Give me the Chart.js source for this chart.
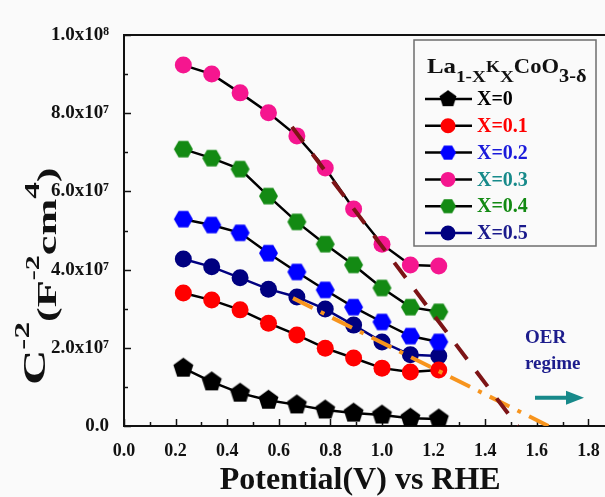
<!DOCTYPE html>
<html>
<head>
<meta charset="utf-8">
<script src="https://cdn.jsdelivr.net/npm/chart.js@4.4.1/dist/chart.umd.min.js"></script>
<style>
  html, body { margin: 0; padding: 0; background: #fafafa; }
</style>
</head>
<body>
<canvas id="mott" width="605" height="497"></canvas>
<script>
// potentials (V vs RHE) shared by every composition
const potential = [0.23, 0.34, 0.45, 0.56, 0.67, 0.78, 0.89, 1.00, 1.11, 1.22];

// C^-2 values (F^-2 cm^4) per composition
const c2X0  = [1.48e7, 1.13e7, 0.84e7, 0.66e7, 0.54e7, 0.41e7, 0.33e7, 0.28e7, 0.20e7, 0.18e7];
const c2X01 = [3.40e7, 3.22e7, 2.97e7, 2.63e7, 2.33e7, 1.99e7, 1.74e7, 1.48e7, 1.38e7, 1.43e7];
const c2X02 = [5.29e7, 5.14e7, 4.94e7, 4.42e7, 3.94e7, 3.48e7, 3.04e7, 2.66e7, 2.30e7, 2.15e7];
const c2X03 = [9.23e7, 9.00e7, 8.52e7, 8.01e7, 7.42e7, 6.60e7, 5.55e7, 4.65e7, 4.12e7, 4.09e7];
const c2X04 = [7.08e7, 6.85e7, 6.57e7, 5.88e7, 5.22e7, 4.65e7, 4.12e7, 3.53e7, 3.04e7, 2.92e7];
const c2X05 = [4.27e7, 4.07e7, 3.79e7, 3.50e7, 3.30e7, 2.99e7, 2.58e7, 2.15e7, 1.82e7, 1.79e7];

const seriesLabels = ['X=0', 'X=0.1', 'X=0.2', 'X=0.3', 'X=0.4', 'X=0.5'];
const seriesValues = [c2X0, c2X01, c2X02, c2X03, c2X04, c2X05];

// extrapolated linear fits down to the x axis
const fitPinkX = [0.651, 1.525];
const fitPinkY = [7.65e7, 0];
const fitNavyX = [0.655, 1.645];
const fitNavyY = [3.27e7, 0];

// axis ticks
const xTickStep = 0.2;
const yTickStep = 2e7;

const serif = "'Liberation Serif', 'Times New Roman', serif";
const pxPerVolt = 258; // the x axis runs off the right edge of the picture

function polygonMarker(sides, radius, color, startAngle) {
    const size = Math.ceil(radius * 2) + 2;
    const c = document.createElement('canvas');
    c.width = size;
    c.height = size;
    const g = c.getContext('2d');
    g.fillStyle = color;
    g.beginPath();
    for (let i = 0; i < sides; i++) {
        const a = startAngle + i * 2 * Math.PI / sides;
        const px = size / 2 + radius * Math.cos(a);
        const py = size / 2 + radius * Math.sin(a);
        if (i === 0) g.moveTo(px, py); else g.lineTo(px, py);
    }
    g.closePath();
    g.fill();
    return c;
}

const markerStyles = [
    {fill: '#000000', shape: polygonMarker(5, 10.5, '#000000', -Math.PI / 2), line: '#000000', text: '#000000'},
    {fill: '#ff0000', shape: 'circle', line: '#000000', text: '#ff0000'},
    {fill: '#0000ff', shape: polygonMarker(6, 9.5, '#0000ff', 0), line: '#000000', text: '#1a1adb'},
    {fill: '#f5168f', shape: 'circle', line: '#000000', text: '#178a8a'},
    {fill: '#138a13', shape: polygonMarker(6, 9.5, '#138a13', 0), line: '#000000', text: '#138a13'},
    {fill: '#000080', shape: 'circle', line: '#000080', text: '#1a1a8c'},
];

const toPoints = (xs, ys) => xs.map((x, i) => ({x: x, y: ys[i]}));

const datasets = [
    {
        label: 'fit X=0.3',
        data: toPoints(fitPinkX, fitPinkY),
        borderColor: '#7d1416',
        borderWidth: 4,
        borderDash: [19, 15],
        pointRadius: 0,
        order: -1,
    },
    {
        label: 'fit X=0.5',
        data: toPoints(fitNavyX, fitNavyY),
        borderColor: '#f7941d',
        borderWidth: 4,
        borderDash: [22, 9, 4, 9],
        pointRadius: 0,
        order: -1,
    },
];

seriesLabels.forEach((label, i) => {
    const st = markerStyles[i];
    datasets.push({
        label: label,
        data: toPoints(potential, seriesValues[i]),
        borderColor: st.line,
        borderWidth: 2.5,
        pointStyle: st.shape,
        pointRadius: 8.5,
        pointBackgroundColor: st.fill,
        pointBorderColor: st.fill,
        pointBorderWidth: 0,
        isSeries: true,
        markerIndex: i,
    });
});

const supDigits = {'0': '⁰', '1': '¹', '2': '²', '3': '³', '4': '⁴', '5': '⁵', '6': '⁶', '7': '⁷', '8': '⁸', '9': '⁹'};

function formatSci(v) {
    if (Math.abs(v) < 1) return '0.0';
    const e = Math.floor(Math.log10(v) + 1e-9);
    const m = v / Math.pow(10, e);
    return m.toFixed(1) + 'x10' + String(e).split('').map(d => supDigits[d]).join('');
}

function drawRich(ctx, segs, x, y) {
    for (const s of segs) {
        ctx.font = 'bold ' + s.size + 'px ' + serif;
        ctx.fillText(s.text, x, y + s.dy);
        x += ctx.measureText(s.text).width;
    }
}

const extras = {
    id: 'extras',
    beforeDatasetsDraw(chart) {
        const {ctx, chartArea, scales} = chart;
        const xs = scales.x, ys = scales.y;
        ctx.save();
        ctx.strokeStyle = '#111';
        // top frame and bottom axis run off the right edge
        ctx.lineWidth = 2;
        ctx.beginPath();
        ctx.moveTo(chartArea.left, chartArea.top);
        ctx.lineTo(chart.width, chartArea.top);
        ctx.moveTo(chartArea.right - 1, chartArea.bottom);
        ctx.lineTo(chart.width, chartArea.bottom);
        ctx.stroke();
        // inward ticks
        ctx.lineWidth = 1.5;
        for (let k = 0; k * 0.1 <= xs.max + 1e-9; k++) {
            const px = Math.round(xs.getPixelForValue(k * 0.1)) + 0.5;
            const len = k % 2 === 0 ? 7 : 4;
            ctx.beginPath();
            ctx.moveTo(px, chartArea.bottom);
            ctx.lineTo(px, chartArea.bottom - len);
            ctx.stroke();
        }
        for (let k = 0; k * 1e7 <= ys.max + 1; k++) {
            const py = Math.round(ys.getPixelForValue(k * 1e7)) + 0.5;
            const len = k % 2 === 0 ? 7 : 4;
            ctx.beginPath();
            ctx.moveTo(chartArea.left, py);
            ctx.lineTo(chartArea.left + len, py);
            ctx.stroke();
        }
        ctx.restore();
    },
    afterDraw(chart) {
        const {ctx, scales} = chart;
        const xs = scales.x, ys = scales.y;
        ctx.save();
        ctx.textAlign = 'left';
        ctx.textBaseline = 'alphabetic';

        // y axis title, rotated and stretched along its length
        ctx.fillStyle = '#111';
        ctx.translate(45, 385);
        ctx.rotate(-Math.PI / 2);
        ctx.scale(1.58, 1);
        drawRich(ctx, [
            {text: 'C', size: 31, dy: 0},
            {text: '-2', size: 21, dy: -16},
            {text: '(F', size: 28, dy: 11},
            {text: '-2', size: 19, dy: -6},
            {text: 'cm', size: 28, dy: 11},
            {text: '4', size: 21, dy: -6},
            {text: ')', size: 28, dy: 11},
        ], 0, 0);
        ctx.setTransform(1, 0, 0, 1, 0, 0);

        // legend box
        const box = {x: 414, y: 40, w: 182, h: 206};
        ctx.fillStyle = '#fafafa';
        ctx.fillRect(box.x, box.y, box.w, box.h);
        ctx.strokeStyle = '#6e6e6e';
        ctx.lineWidth = 1.5;
        ctx.strokeRect(box.x, box.y, box.w, box.h);

        ctx.fillStyle = '#111';
        ctx.translate(427, 73);
        ctx.scale(1.13, 1);
        drawRich(ctx, [
            {text: 'La', size: 22, dy: 0},
            {text: '1-X', size: 17, dy: 9},
            {text: 'K', size: 16, dy: -1},
            {text: 'X', size: 17, dy: 9},
            {text: 'CoO', size: 20, dy: 0},
            {text: '3-δ', size: 18, dy: 9},
        ], 0, 0);
        ctx.setTransform(1, 0, 0, 1, 0, 0);

        const rows = chart.data.datasets.filter(d => d.isSeries);
        rows.forEach((d, i) => {
            const st = markerStyles[d.markerIndex];
            const cy = 99 + i * 26.8;
            ctx.strokeStyle = st.line;
            ctx.lineWidth = 2.5;
            ctx.beginPath();
            ctx.moveTo(425, cy);
            ctx.lineTo(472, cy);
            ctx.stroke();
            if (st.shape === 'circle') {
                ctx.fillStyle = st.fill;
                ctx.beginPath();
                ctx.arc(448, cy, 7.5, 0, Math.PI * 2);
                ctx.fill();
            } else {
                const w = st.shape.width * 0.85;
                ctx.drawImage(st.shape, 448 - w / 2, cy - w / 2, w, w);
            }
            ctx.fillStyle = st.text;
            ctx.font = 'bold 20px ' + serif;
            ctx.textBaseline = 'middle';
            ctx.fillText(d.label, 477, cy + 1);
            ctx.textBaseline = 'alphabetic';
        });

        // OER regime note and arrow
        ctx.fillStyle = '#1c1c8c';
        ctx.font = 'bold 19px ' + serif;
        const tx = xs.getPixelForValue(1.554);
        ctx.fillText('OER', tx, ys.getPixelForValue(2.12e7));
        ctx.fillText('regime', tx, ys.getPixelForValue(1.46e7));

        const ay = ys.getPixelForValue(0.72e7);
        const ax0 = xs.getPixelForValue(1.593);
        const ax1 = xs.getPixelForValue(1.783);
        ctx.strokeStyle = '#17898a';
        ctx.fillStyle = '#17898a';
        ctx.lineWidth = 4;
        ctx.beginPath();
        ctx.moveTo(ax0, ay);
        ctx.lineTo(ax1 - 14, ay);
        ctx.stroke();
        ctx.beginPath();
        ctx.moveTo(ax1 - 18, ay - 7);
        ctx.lineTo(ax1, ay);
        ctx.lineTo(ax1 - 18, ay + 7);
        ctx.closePath();
        ctx.fill();
        ctx.restore();
    }
};

const mottChart = new Chart(document.getElementById('mott'), {
    type: 'line',
    data: {datasets: datasets},
    options: {
        responsive: false,
        animation: false,
        events: [],
        layout: {padding: {top: 35, left: 0, right: 0, bottom: 0}},
        plugins: {
            legend: {display: false},
            tooltip: {enabled: false},
        },
        elements: {line: {tension: 0}},
        scales: {
            x: {
                type: 'linear',
                min: 0,
                max: 1.865,
                grid: {display: false},
                border: {display: true, color: '#111', width: 2},
                ticks: {
                    stepSize: xTickStep,
                    includeBounds: false,
                    padding: 7,
                    color: '#111',
                    font: {family: serif, size: 18, weight: 'bold'},
                    callback: v => v.toFixed(1),
                },
                title: {
                    display: true,
                    text: 'Potential(V) vs RHE',
                    color: '#111',
                    font: {family: serif, size: 32, weight: 'bold', lineHeight: 1},
                    padding: {top: 0, bottom: 0},
                },
                afterFit: s => { s.height = 71; s.paddingLeft = 0; s.paddingRight = 0; },
            },
            y: {
                type: 'linear',
                min: 0,
                max: 1e8,
                grid: {display: false},
                border: {display: true, color: '#111', width: 2},
                ticks: {
                    stepSize: yTickStep,
                    padding: 7,
                    color: '#111',
                    font: {family: serif, size: 19, weight: 'bold'},
                    callback: v => formatSci(v),
                },
                afterFit: s => { s.width = 124; s.paddingTop = 0; s.paddingBottom = 0; },
            },
        },
    },
    plugins: [extras],
});

// keep the voltage scale the same as the original figure whatever width the layout leaves
const area = mottChart.chartArea;
mottChart.options.scales.x.max = (area.right - area.left) / pxPerVolt;
mottChart.update();
</script>
</body>
</html>
